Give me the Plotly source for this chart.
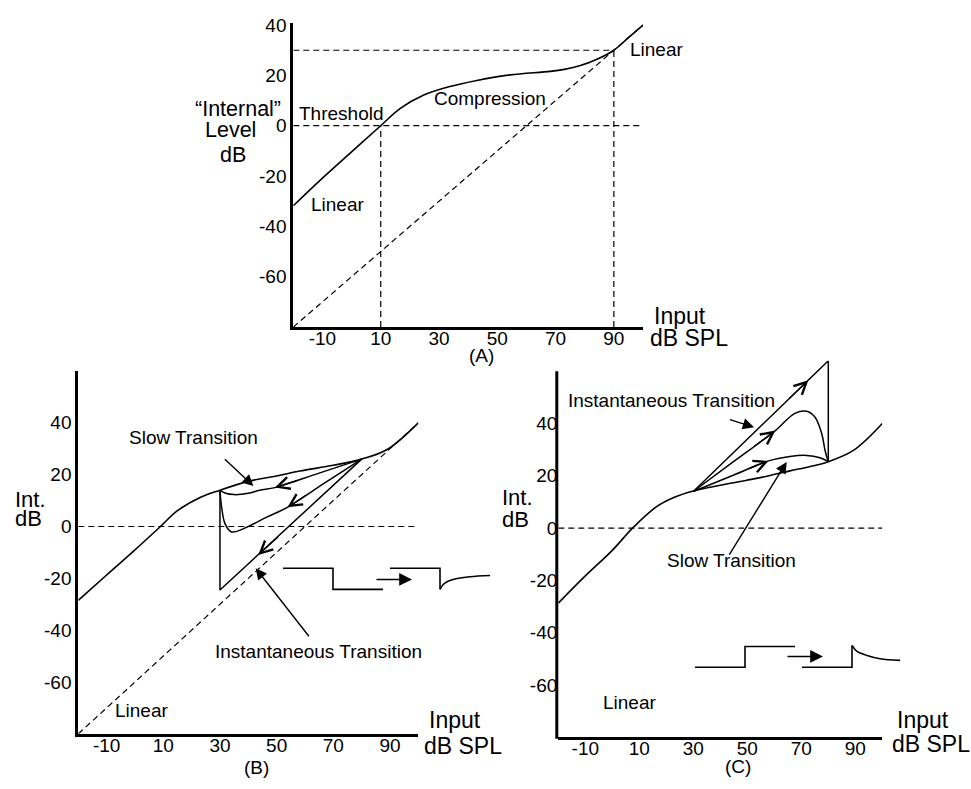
import plotly.graph_objects as go

W, H = 971, 789
FONT = "Liberation Sans, Arial, Helvetica, sans-serif"

# ---------------- data ----------------
x_ticks = [-10, 10, 30, 50, 70, 90]
x_tick_text = ["-10", "10", "30", "50", "70", "90"]
y_ticks = [-60, -40, -20, 0, 20, 40]
y_tick_text = ["-60", "-40", "-20", "0", "20", "40"]

# Panel A: input/output function
a_curve_x = [-20, -10, 0, 10, 16.6, 24.6, 33.8, 43, 54.4, 68.2, 73, 78.5, 84, 90, 95, 100]
a_curve_y = [-31.8, -20.8, -10.4, 0, 6.8, 12.1, 15.6, 18, 20.2, 21.6, 22.4, 23.9, 26.3, 30, 35, 40]
a_linear_x = [-20, 100]
a_linear_y = [-80, 40]
a_thresh_level = 0
a_upper_level = 30
a_thresh_input = 10
a_upper_input = 90

# Panel B: step decrease 80 -> 30 dB
b_curve_x = [-20, -10, 0, 9, 15, 23, 30, 40.6, 50, 58.2, 70, 80, 89, 100]
b_curve_y = [-28.5, -18.7, -9, 0, 6.1, 11.2, 14, 17.6, 19.5, 21.4, 23.6, 26, 29.7, 40]
b_linear_x = [-20, 100]
b_linear_y = [-80, 40]
b_instant_x = [80, 30, 30]
b_instant_y = [26, -24.5, 14]
b_slow1_x = [80, 65, 49.4, 44, 40, 35, 32, 30]
b_slow1_y = [26, 20.6, 15, 14, 12.8, 12.3, 12.8, 14]
b_slow2_x = [80, 67, 53.8, 46.5, 38.2, 34.1, 31.8, 30.6, 30]
b_slow2_y = [26, 16.8, 7.4, 3.6, -0.9, -2.1, 1.0, 7.4, 14]

# Panel C: step increase 30 -> 80 dB
c_curve_x = [-20, -10, 0, 7.5, 16.4, 23, 30, 40, 49.8, 58, 65.8, 73, 80, 89.3, 100]
c_curve_y = [-28.7, -18.3, -8.5, 0, 8.2, 11.8, 14.2, 16.4, 18.3, 20, 21.9, 23.5, 25.4, 29.7, 40]
c_instant_x = [30, 80, 80]
c_instant_y = [14, 64, 25.4]
c_mid_x = [30, 45, 60.4, 67.6, 72, 75.1, 77.6, 78.8, 80]
c_mid_y = [14, 25.5, 37.3, 43.9, 44.7, 42.4, 36, 29.7, 25.4]
c_slow_x = [30, 45, 57.8, 65.8, 72, 76.9, 80]
c_slow_y = [14, 20.3, 25.7, 27.4, 27.8, 26.9, 25.4]

# Stimulus insets (schematic waveforms)
bw_in_x = [0.3, 5.3, 5.3, 10.3]
bw_in_y = [1, 1, 0, 0]
bw_out_x = [11, 16, 16]
bw_out_y = [1, 1, 0]
bw_rec_x = [16, 16.3, 16.8, 17.6, 19, 21]
bw_rec_y = [0, 0.22, 0.38, 0.5, 0.6, 0.66]
cw_in_x = [0.5, 5.5, 5.5, 10.5]
cw_in_y = [0, 0, 1, 1]
cw_out_x = [11.2, 16.2, 16.2]
cw_out_y = [0, 0, 1.05]
cw_dec_x = [16.2, 16.7, 17.7, 19, 21]
cw_dec_y = [1.05, 0.76, 0.57, 0.41, 0.33]


def fx(p):
    return p / W


def fy(p):
    return 1 - p / H


fig = go.Figure()


def line(x, y, xa, ya, width=1.5, dash=None, spline=False):
    fig.add_trace(go.Scatter(
        x=x, y=y, xaxis=xa, yaxis=ya, mode="lines", hoverinfo="skip",
        line=dict(color="black", width=width, dash=dash,
                  shape="spline" if spline else "linear", smoothing=1.0)))


DASH = "6px,4px"

# ---- Panel A ----
line(a_linear_x, a_linear_y, "x", "y", 1.2, DASH)
line([a_linear_x[0], a_linear_x[1]], [a_thresh_level, a_thresh_level], "x", "y", 1.2, DASH)
line([a_linear_x[0], a_upper_input], [a_upper_level, a_upper_level], "x", "y", 1.2, DASH)
line([a_thresh_input, a_thresh_input], [a_linear_y[0], a_thresh_level], "x", "y", 1.2, DASH)
line([a_upper_input, a_upper_input], [a_linear_y[0], a_upper_level], "x", "y", 1.2, DASH)
line(a_curve_x, a_curve_y, "x", "y", 1.6, None, True)

# ---- Panel B ----
line(b_linear_x, b_linear_y, "x2", "y2", 1.2, DASH)
line([b_linear_x[0], b_linear_x[1]], [0, 0], "x2", "y2", 1.2, DASH)
line(b_curve_x, b_curve_y, "x2", "y2", 1.6, None, True)
line(b_instant_x, b_instant_y, "x2", "y2", 1.5)
line(b_slow1_x, b_slow1_y, "x2", "y2", 1.5, None, True)
line(b_slow2_x, b_slow2_y, "x2", "y2", 1.5, None, True)

# ---- Panel C ----
line([-20, 100], [0, 0], "x3", "y3", 1.2, DASH)
line(c_curve_x, c_curve_y, "x3", "y3", 1.6, None, True)
line(c_instant_x, c_instant_y, "x3", "y3", 1.5)
line(c_mid_x, c_mid_y, "x3", "y3", 1.5, None, True)
line(c_slow_x, c_slow_y, "x3", "y3", 1.5, None, True)

# ---- Insets ----
line(bw_in_x, bw_in_y, "x4", "y4", 1.6)
line(bw_out_x, bw_out_y, "x4", "y4", 1.6)
line(bw_rec_x, bw_rec_y, "x4", "y4", 1.6, None, True)
line(cw_in_x, cw_in_y, "x5", "y5", 1.6)
line(cw_out_x, cw_out_y, "x5", "y5", 1.6)
line(cw_dec_x, cw_dec_y, "x5", "y5", 1.6, None, True)

# ---------------- axes ----------------
def main_axes(xdom, ydom, yrange, yline=True):
    xa = dict(domain=[fx(xdom[0]), fx(xdom[1])], range=[-20, 100],
              tickvals=x_ticks, ticktext=x_tick_text, ticks="", showgrid=False, zeroline=False,
              showline=True, linewidth=3, linecolor="black",
              tickfont=dict(family=FONT, size=19, color="black"),
              ticklabelstandoff=-8, fixedrange=True)
    ya = dict(domain=[fy(ydom[1]), fy(ydom[0])], range=yrange,
              tickvals=y_ticks, ticktext=y_tick_text, ticks="", showgrid=False, zeroline=False,
              showline=yline, linewidth=3, linecolor="black",
              tickfont=dict(family=FONT, size=19, color="black"),
              ticklabelstandoff=0, fixedrange=True)
    return xa, ya


xa1, ya1 = main_axes((293.3, 643), (14.7, 322.3), [-80, 41])
xa2, ya2 = main_axes((78.3, 418.3), (366.7, 733.3), [-80, 60])
xa3, ya3 = main_axes((558.3, 882.3), (356.4, 736.7), [-80, 64], yline=False)
ya2["anchor"] = "x2"
xa2["anchor"] = "y2"
ya3["anchor"] = "x3"
xa3["anchor"] = "y3"


def inset_axes(xpx, ypx, xr, yr):
    xa = dict(domain=[fx(xpx[0]), fx(xpx[1])], range=xr, visible=False, fixedrange=True)
    ya = dict(domain=[fy(ypx[1]), fy(ypx[0])], range=yr, visible=False, fixedrange=True)
    return xa, ya


xa4, ya4 = inset_axes((280, 495), (560, 595), [0, 21.5], [-0.3615, 1.2817])
xa5, ya5 = inset_axes((685, 910), (638, 672), [-0.5, 22], [-0.2857, 1.3333])
xa4["anchor"] = "y4"; ya4["anchor"] = "x4"
xa5["anchor"] = "y5"; ya5["anchor"] = "x5"

# C's y-axis line only up to 60 dB
c_y60_px = 736.7 - 140 * (736.7 - 356.4) / 144
shapes = [dict(type="line", xref="paper", yref="paper",
               x0=fx(558.3 - 1.5), x1=fx(558.3 - 1.5), y0=fy(736.7 + 1.5), y1=fy(c_y60_px),
               line=dict(color="black", width=3))]

# ---------------- annotations ----------------
ann = []


def text(t, x, y, size=19, xanchor="center"):
    y = y - 0.27 * size  # visual centre of glyphs vs. text box centre
    ann.append(dict(text=t, x=fx(x), y=fy(y), xref="paper", yref="paper",
                    showarrow=False, xanchor=xanchor, yanchor="middle",
                    font=dict(family=FONT, size=size, color="black")))


def arrow(xr, yr, tip, tail, head, size, width):
    ann.append(dict(text="", x=tip[0], y=tip[1], ax=tail[0], ay=tail[1],
                    xref=xr, yref=yr, axref=xr, ayref=yr, showarrow=True,
                    arrowhead=head, arrowsize=size, arrowwidth=width,
                    arrowcolor="black", standoff=0))


# Panel A texts
text("Threshold", 297, 111.5, xanchor="left")
text("Compression", 490, 97)
text("Linear", 628, 47, xanchor="left")
text("Linear", 309, 203.5, xanchor="left")
text("\u201cInternal\u201d", 238, 107.5, 21.5)
text("Level", 230, 129.5, 21.5)
text("dB", 233, 154.5, 21.5)
text("Input", 651.7, 317, 23, "left")
text("dB SPL", 648, 339.5, 23, "left")
text("(A)", 481, 356)

# Panel B texts
text("Slow Transition", 193, 439)
text("Instantaneous Transition", 318, 655)
text("Linear", 141, 715)
text("Int.", 13.3, 502, 22, "left")
text("dB", 13.3, 521.7, 22, "left")
text("Input", 426.7, 726, 23, "left")
text("dB SPL", 421.7, 751.5, 23, "left")
text("(B)", 256.7, 772.5)

# Panel C texts
text("Instantaneous Transition", 671.7, 401.7)
text("Slow Transition", 731.7, 563.3)
text("Linear", 629, 706.7)
text("Int.", 500, 500, 22, "left")
text("dB", 500, 522.5, 22, "left")
text("Input", 895, 725, 23, "left")
text("dB SPL", 890, 750, 23, "left")
text("(C)", 738, 771.7)

# open arrowheads along the trajectories
arrow("x2", "y2", (49.4, 15), (58, 18.1), 5, 2.0, 1.2)
arrow("x2", "y2", (53.8, 7.4), (61, 12.5), 5, 2.0, 1.2)
arrow("x2", "y2", (43.5, -11), (51, -3.5), 5, 2.0, 1.2)
arrow("x3", "y3", (57.8, 25.7), (50, 22.4), 5, 2.0, 1.2)
arrow("x3", "y3", (60.4, 37.3), (52, 30.9), 5, 2.0, 1.2)
arrow("x3", "y3", (72.6, 56.6), (65, 49), 5, 2.0, 1.2)

# pointer arrows from labels
arrow("x2", "y2", (41.8, 15.6), (31.2, 26.5), 2, 1.6, 1.4)
arrow("x2", "y2", (42.6, -16.1), (61.8, -42.9), 2, 1.6, 1.4)
arrow("x3", "y3", (52.5, 38.6), (43, 41.7), 2, 1.6, 1.4)
arrow("x3", "y3", (64.6, 25.3), (43, -10.7), 2, 1.6, 1.4)

# inset arrows
arrow("x4", "y4", (13.2, 0.47), (9.5, 0.47), 2, 1.6, 1.6)
arrow("x5", "y5", (13.3, 0.52), (9.6, 0.52), 2, 1.6, 1.6)

fig.update_layout(
    width=W, height=H, margin=dict(l=0, r=0, t=0, b=0),
    paper_bgcolor="white", plot_bgcolor="white", showlegend=False,
    xaxis=xa1, yaxis=ya1, xaxis2=xa2, yaxis2=ya2, xaxis3=xa3, yaxis3=ya3,
    xaxis4=xa4, yaxis4=ya4, xaxis5=xa5, yaxis5=ya5,
    annotations=ann, shapes=shapes,
    font=dict(family=FONT, color="black"),
)

fig.write_html("out.html", config={"displayModeBar": False},
               post_script="document.body.style.margin='0px';document.body.style.overflow='hidden';")
